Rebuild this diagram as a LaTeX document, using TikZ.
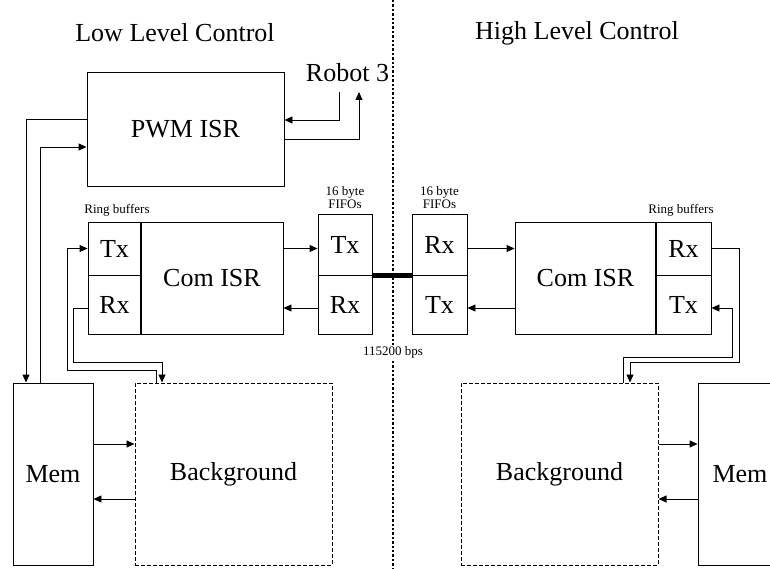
\documentclass[tikz,border=0pt]{standalone}
\usepackage{fontspec}
\setmainfont{Liberation Serif}
\usetikzlibrary{arrows.meta}

\begin{document}
\begin{tikzpicture}[x=1pt, y=-1pt, >={Triangle[length=8pt, width=7pt]},
  every node/.style={font=\fontsize{26}{30}\selectfont, align=center},
  box/.style={draw, line width=0.9pt, inner sep=0pt},
  bgbox/.style={draw, line width=1pt, dash pattern=on 4pt off 2pt, inner sep=0pt, minimum width=197pt, minimum height=182pt},
  note/.style={font=\fontsize{13}{13}\selectfont},
  link/.style={->, line width=0.9pt}]
  \clip (0,0) rectangle (770,569);
  \useasboundingbox (0,0) rectangle (770,569);
  % titles and the dotted split between the two controllers
  \node (lowT)  at (175,33) {Low Level Control};
  \node (highT) at (577,33) {High Level Control};
  \coordinate (divTop) at (393,0);
  \coordinate (divBot) at (393,569);
  % low level side
  \node[box, minimum width=197pt, minimum height=114pt] (pwm)  at (185.5,129) {PWM ISR};
  \node (robot) at (347.5,73) {Robot 3};
  \coordinate (rIn)  at (339,92);
  \coordinate (rOut) at (359,92);
  \node[box, minimum width=53pt, minimum height=53pt]   (ltx)  at (114.5,248.5) {Tx};
  \node[box, minimum width=53pt, minimum height=59pt]   (lrx)  at (114.5,304.5) {Rx};
  \node[box, minimum width=142pt, minimum height=112pt] (lcom) at (212,278)     {Com ISR};
  \node[box, minimum width=54pt, minimum height=61pt]   (lftx) at (345,244.5)   {Tx};
  \node[box, minimum width=54pt, minimum height=59pt]   (lfrx) at (345,304.5)   {Rx};
  \node[box, minimum width=80pt, minimum height=182pt]  (lmem) at (53,474)      {Mem};
  \node[bgbox] (lbg) at (233.5,474) {Background};
  \node[note] (lring) at (117,210) {Ring buffers};
  \node[note] (lfifo) at (345,198) {16 byte\\FIFOs};
  % high level side
  \node[box, minimum width=55pt, minimum height=61pt]   (rfrx) at (439.5,244.5) {Rx};
  \node[box, minimum width=55pt, minimum height=59pt]   (rftx) at (439.5,304.5) {Tx};
  \node[box, minimum width=141pt, minimum height=112pt] (rcom) at (585.5,278)   {Com ISR};
  \node[box, minimum width=55pt, minimum height=53pt]   (rrx)  at (683.5,248.5) {Rx};
  \node[box, minimum width=55pt, minimum height=59pt]   (rtx)  at (683.5,304.5) {Tx};
  \node[bgbox] (rbg) at (559.5,474) {Background};
  \node[box, minimum width=84pt, minimum height=182pt]  (rmem) at (740,474)     {Mem};
  \node[note] (rring) at (681,210) {Ring buffers};
  \node[note] (rfifo) at (439.5,198) {16 byte\\FIFOs};
  % separators and the serial link
  \draw[line width=2pt] (ltx.north east) -- (lrx.south east);
  \draw[line width=2pt] (rrx.north west) -- (rtx.south west);
  \draw[line width=5pt] (lftx.south east) -- (rfrx.south west);
  \draw[line width=2.4pt, dash pattern=on 2.4pt off 2pt] (divTop) -- (divBot);
  \node[note, fill=white, inner sep=1pt] (baud) at (393,352) {115200 bps};
  % pwm and robot
  \draw[link] (rIn) |- ([yshift=9pt]pwm.east);
  \draw[link] ([yshift=-10pt]pwm.east) -| (rOut);
  \draw[link] ([yshift=10pt]pwm.west) -| ([xshift=-27pt]lmem.north);
  \draw[link] ([xshift=-13pt]lmem.north) |- ([yshift=-18pt]pwm.west);
  % com isr to fifos
  \draw[link] (lcom.east |- ltx) -- (lftx.west |- ltx);
  \draw[link] ([yshift=-3.5pt]lfrx.west) -- ([yshift=-3.5pt]lfrx.west -| lcom.east);
  \draw[link] (rfrx.east |- rrx) -- (rcom.west |- rrx);
  \draw[link] ([yshift=-3.5pt]rcom.west |- rftx) -- ([yshift=-3.5pt]rftx.east);
  % ring buffers to background
  \draw[link] ([xshift=-77.5pt]lbg.north) |- (67,370) |- (ltx.west);
  \draw[link] ([yshift=-3.5pt]lrx.west) -| (73,362) -| ([xshift=-71.5pt]lbg.north);
  \draw[link] (rrx.east) -| (739,362) -| ([xshift=70.5pt]rbg.north);
  \draw[link] ([xshift=63.5pt]rbg.north) |- (732,357) |- ([yshift=-3.5pt]rtx.east);
  % memory and background
  \draw[link] ([yshift=30pt]lmem.east) -- ([yshift=30pt]lmem.east -| lbg.west);
  \draw[link] ([yshift=-25pt]lbg.west) -- ([yshift=-25pt]lbg.west -| lmem.east);
  \draw[link] ([yshift=30pt]rbg.east) -- ([yshift=30pt]rbg.east -| rmem.west);
  \draw[link] ([yshift=-25pt]rmem.west) -- ([yshift=-25pt]rmem.west -| rbg.east);
\end{tikzpicture}
\end{document}
